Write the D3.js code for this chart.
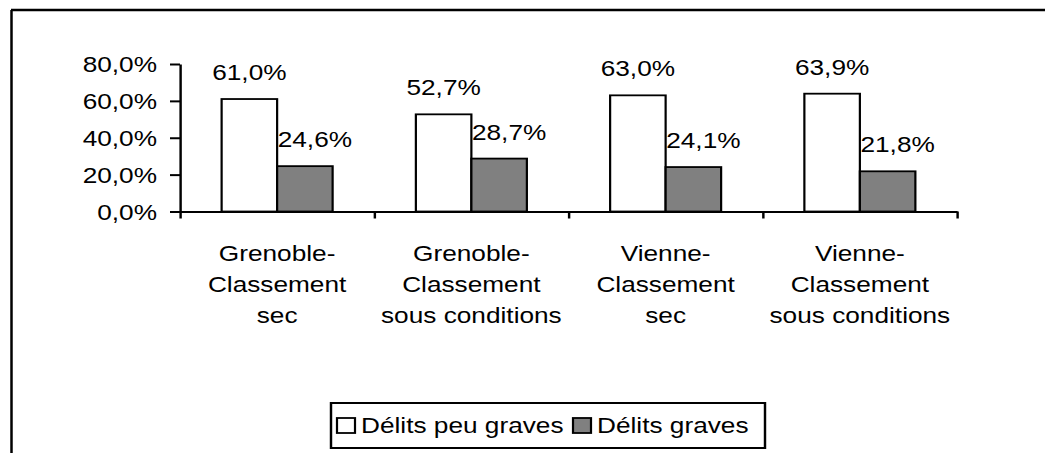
<!DOCTYPE html>
<html>
<head>
<meta charset="utf-8">
<script src="https://cdn.jsdelivr.net/npm/d3@7"></script>
<style>
  body { margin: 0; background: #fff; }
  text { font-family: "Liberation Sans", Arial, sans-serif; fill: #000; }
</style>
</head>
<body>
<svg width="1045" height="453"></svg>
<script>
// data
const categories = ["Grenoble-\nClassement\nsec", "Grenoble-\nClassement\nsous conditions",
                    "Vienne-\nClassement\nsec", "Vienne-\nClassement\nsous conditions"];
const series = ["Délits peu graves", "Délits graves"];
const peuGraves = [61.0, 52.7, 63.0, 63.9];
const graves = [24.6, 28.7, 24.1, 21.8];
const yTicks = [0, 20, 40, 60, 80];
const colors = ["#ffffff", "#808080"];

let svg = d3.select("svg");
// the original picture is stretched horizontally, so draw in a squeezed space
const sx = 1.22;
const X = v => v / sx;
const fontSize = 21.5;
const fmt = d => d.toFixed(1).replace(".", ",") + "%";

// frame (only top and left edges visible)
svg.append("line").attr("x1", 11).attr("x2", 1045).attr("y1", 10).attr("y2", 10)
    .attr("stroke", "#000").attr("stroke-width", 2.5);
svg.append("line").attr("x1", 11.5).attr("x2", 11.5).attr("y1", 10).attr("y2", 453)
    .attr("stroke", "#000").attr("stroke-width", 2.5);

let g = svg.append("g").attr("transform", "scale(" + sx + ",1)");

const rows = categories.map((c, i) => ({cat: c, values: [peuGraves[i], graves[i]]}));

// scales
let x0 = d3.scaleBand().domain(categories).range([X(180), X(957)]);
let x1 = d3.scaleBand().domain(series).range([0, x0.bandwidth()]).paddingOuter(0.75);
let xEdge = d3.scaleLinear().domain([0, categories.length]).range([X(180), X(957)]);
let y = d3.scaleLinear().domain([0, 80]).range([211.5, 64]);

// bars
let groups = g.selectAll(".grp").data(rows).enter().append("g")
    .attr("class", "grp")
    .attr("transform", d => "translate(" + x0(d.cat) + ",0)");

groups.selectAll("rect").data(d => d.values.map((v, k) => ({s: series[k], v: v, k: k})))
    .enter().append("rect")
    .attr("x", d => x1(d.s))
    .attr("y", d => y(d.v))
    .attr("width", x1.bandwidth())
    .attr("height", d => y(0) - y(d.v))
    .attr("fill", d => colors[d.k])
    .attr("stroke", "#000")
    .attr("stroke-width", 1.8);

groups.selectAll("text.val").data(d => d.values.map((v, k) => ({s: series[k], v: v, k: k})))
    .enter().append("text")
    .attr("class", "val")
    .attr("x", d => x1(d.s) + x1.bandwidth() / 2 + (d.k === 1 ? X(10) : 0))
    .attr("y", d => y(d.v) - 19)
    .attr("text-anchor", "middle")
    .style("font-size", fontSize + "px")
    .text(d => fmt(d.v));

// y axis
let yAxis = g.append("g")
    .attr("transform", "translate(" + X(180) + ",0)")
    .call(d3.axisLeft(y).tickValues(yTicks).tickSize(X(10)).tickSizeOuter(0)
        .tickPadding(X(13)).tickFormat(fmt));
yAxis.selectAll("text").style("font-size", fontSize + "px").attr("dy", "0.36em");

// x axis, ticks on category edges
let xAxis = g.append("g")
    .attr("transform", "translate(0," + y(0) + ")")
    .call(d3.axisBottom(xEdge).tickValues(d3.range(categories.length + 1))
        .tickSize(7).tickSizeOuter(0).tickFormat(""));

g.selectAll(".domain, .tick line").attr("stroke", "#000").attr("stroke-width", 2);

// category labels
let catLabels = g.selectAll(".cat").data(categories).enter().append("text")
    .attr("class", "cat")
    .attr("text-anchor", "middle")
    .style("font-size", fontSize + "px");
catLabels.selectAll("tspan").data(d => d.split("\n").map(t => ({t: t, c: d})))
    .enter().append("tspan")
    .attr("x", d => x0(d.c) + x0.bandwidth() / 2)
    .attr("y", (d, i) => 261.5 + i * 31)
    .text(d => d.t);

// legend
let legend = g.append("g");
legend.append("rect")
    .attr("x", X(331)).attr("y", 403).attr("width", X(765 - 331)).attr("height", 45)
    .attr("fill", "#fff").attr("stroke", "#000").attr("stroke-width", 2);
const legendX = [337, 573];
series.forEach((s, k) => {
    legend.append("rect")
        .attr("x", X(legendX[k])).attr("y", 418).attr("width", X(18)).attr("height", 15)
        .attr("fill", colors[k]).attr("stroke", "#000").attr("stroke-width", 1.8);
    legend.append("text")
        .attr("x", X(legendX[k] + 24)).attr("y", 433)
        .style("font-size", fontSize + "px")
        .text(s);
});
</script>
</body>
</html>
